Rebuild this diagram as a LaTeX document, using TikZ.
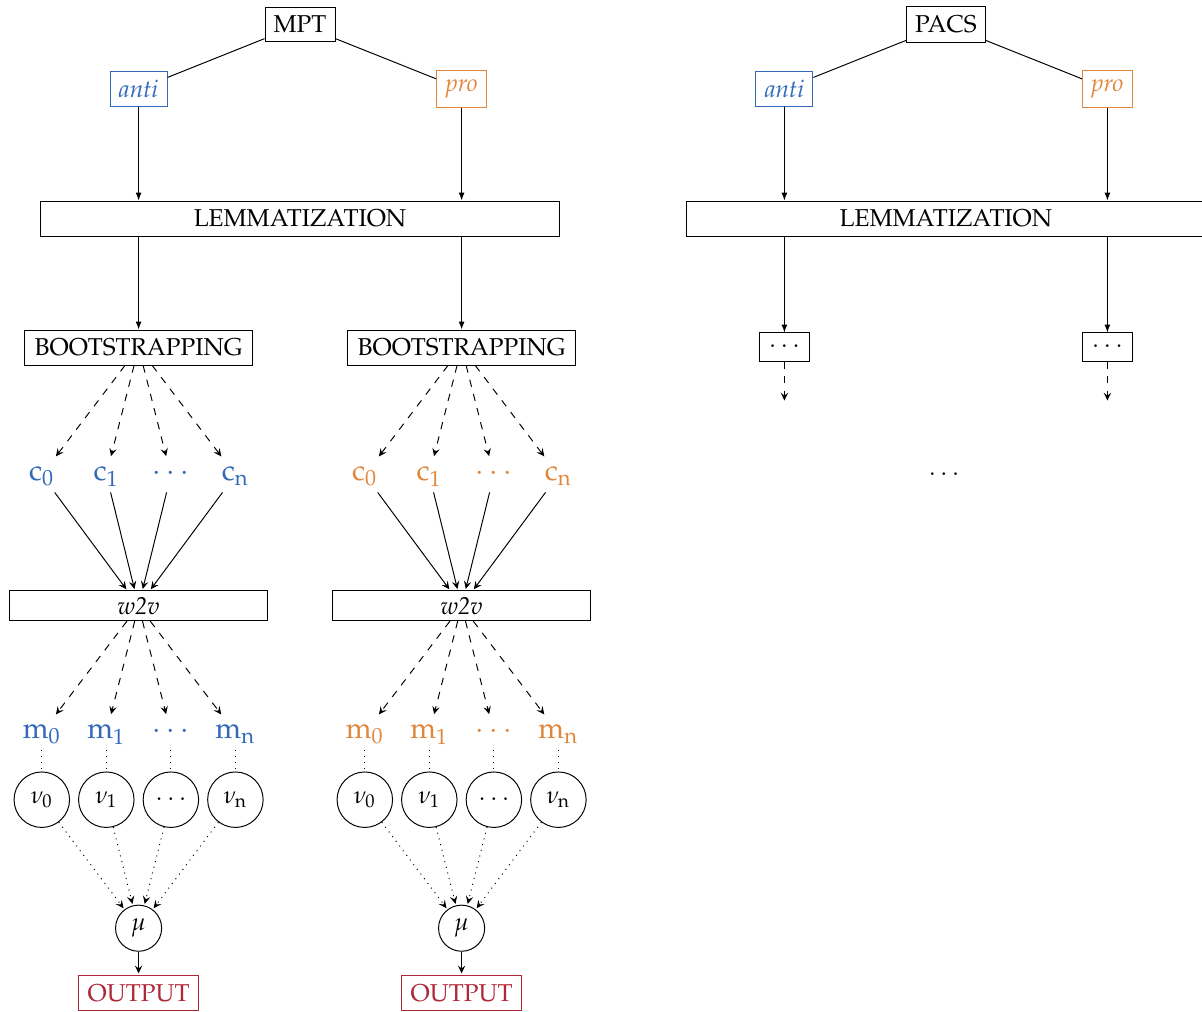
\documentclass[tikz,border=0pt]{standalone}
\usepackage[T1]{fontenc}
\usepackage[sc]{mathpazo}
\usetikzlibrary{arrows.meta}
\definecolor{cblue}{RGB}{50,105,185}
\definecolor{corange}{RGB}{225,135,60}
\definecolor{cred}{RGB}{175,40,55}
\begin{document}
\begin{tikzpicture}[x=0.41pt,y=-0.41pt,
  box/.style={draw,rectangle,inner sep=0pt},
  circ/.style={draw,circle,inner sep=0pt,minimum size=22.75pt},
  lbl/.style={inner sep=3.33pt,text height=6pt,text depth=1.2pt,font=\large},
  solidarr/.style={-{Latex[length=3.2pt,width=2.4pt]}},
  openarr/.style={-{Stealth[length=3.2pt,width=3pt,inset=1.2pt]},shorten >=0.6pt},
]
\useasboundingbox (0,0) rectangle (1202,1012);

% ---------- left tree (MPT) ----------
\node[box,minimum width=28.7pt,minimum height=13.9pt] (mpt) at (300,24.5) {MPT};
\node[box,draw=cblue,text=cblue,minimum width=23.4pt,minimum height=14.35pt] (antiL) at (138.6,89) {\textit{anti}};
\node[box,draw=corange,text=corange,minimum width=20.5pt,minimum height=14.8pt] (proL) at (461.6,89) {\textit{pro}};
\draw (mpt) -- (antiL);
\draw (mpt) -- (proL);
\node[box,minimum width=212.4pt,minimum height=14.35pt] (lemL) at (300,218.5) {LEMMATIZATION};
\draw[solidarr] (antiL) -- (antiL |- lemL.north);
\draw[solidarr] (proL) -- (proL |- lemL.north);

\foreach \s/\X/\col in {a/138.6/cblue, p/461.6/corange} {
  \node[box,minimum width=93.7pt,minimum height=14.35pt] (boot\s) at (\X,347.5) {BOOTSTRAPPING};
  \draw[solidarr] (boot\s |- lemL.south) -- (boot\s);
  \node[box,minimum width=106pt,minimum height=12.2pt] (w2v\s) at (\X,605.8) {\textit{w2v}};
  \node[draw,circle,inner sep=0pt,minimum size=18.9pt] (mu\s) at (\X,928.2) {$\mu$};
  \node[box,draw=cred,text=cred,minimum width=49.5pt,minimum height=14.5pt] (out\s) at (\X,993) {OUTPUT};
  \draw[openarr] (mu\s) -- (out\s);
  \foreach \i/\dx/\cl/\ml/\vl in {0/-96.8/{\mathrm{c}_0}/{\mathrm{m}_0}/{\nu_0}, 1/-32.3/{\mathrm{c}_1}/{\mathrm{m}_1}/{\nu_1}, 2/32.3/{\cdots}/{\cdots}/{\cdots}, 3/96.8/{\mathrm{c}_\mathrm{n}}/{\mathrm{m}_\mathrm{n}}/{\nu_\mathrm{n}}} {
    \node[lbl,text=\col] (c\s\i) at (\X+\dx,475) {$\cl$};
    \draw[dashed,openarr] (boot\s) -- (c\s\i);
    \draw[openarr] (c\s\i) -- (w2v\s);
    \node[lbl,text=\col] (m\s\i) at (\X+\dx,733) {$\ml$};
    \draw[dashed,openarr] (w2v\s) -- (m\s\i);
    \node[circ] (v\s\i) at (\X+\dx,799.7) {$\vl$};
    \draw[dotted] (m\s\i) -- (v\s\i);
    \draw[dotted,openarr] (v\s\i) -- (mu\s);
  }
}

% ---------- right tree (PACS) ----------
\node[box,minimum width=32.4pt,minimum height=14.55pt] (pacs) at (945.9,24.5) {PACS};
\node[box,draw=cblue,text=cblue,minimum width=23.4pt,minimum height=14.35pt] (antiR) at (784.4,89) {\textit{anti}};
\node[box,draw=corange,text=corange,minimum width=20.5pt,minimum height=14.8pt] (proR) at (1107.4,89) {\textit{pro}};
\draw (pacs) -- (antiR);
\draw (pacs) -- (proR);
\node[box,minimum width=212.4pt,minimum height=14.35pt] (lemR) at (945.9,218.5) {LEMMATIZATION};
\draw[solidarr] (antiR) -- (antiR |- lemR.north);
\draw[solidarr] (proR) -- (proR |- lemR.north);
\node[box,minimum width=20.5pt,minimum height=11.5pt] (dotsA) at (784.4,347) {$\cdots$};
\node[box,minimum width=20.5pt,minimum height=11.5pt] (dotsP) at (1107.4,347) {$\cdots$};
\draw[solidarr] (dotsA |- lemR.south) -- (dotsA);
\draw[solidarr] (dotsP |- lemR.south) -- (dotsP);
\coordinate (endA) at (784.4,402);
\coordinate (endP) at (1107.4,402);
\draw[dashed,openarr] (dotsA) -- (endA);
\draw[dashed,openarr] (dotsP) -- (endP);
\node (more) at (944,475) {$\cdots$};
\end{tikzpicture}
\end{document}
